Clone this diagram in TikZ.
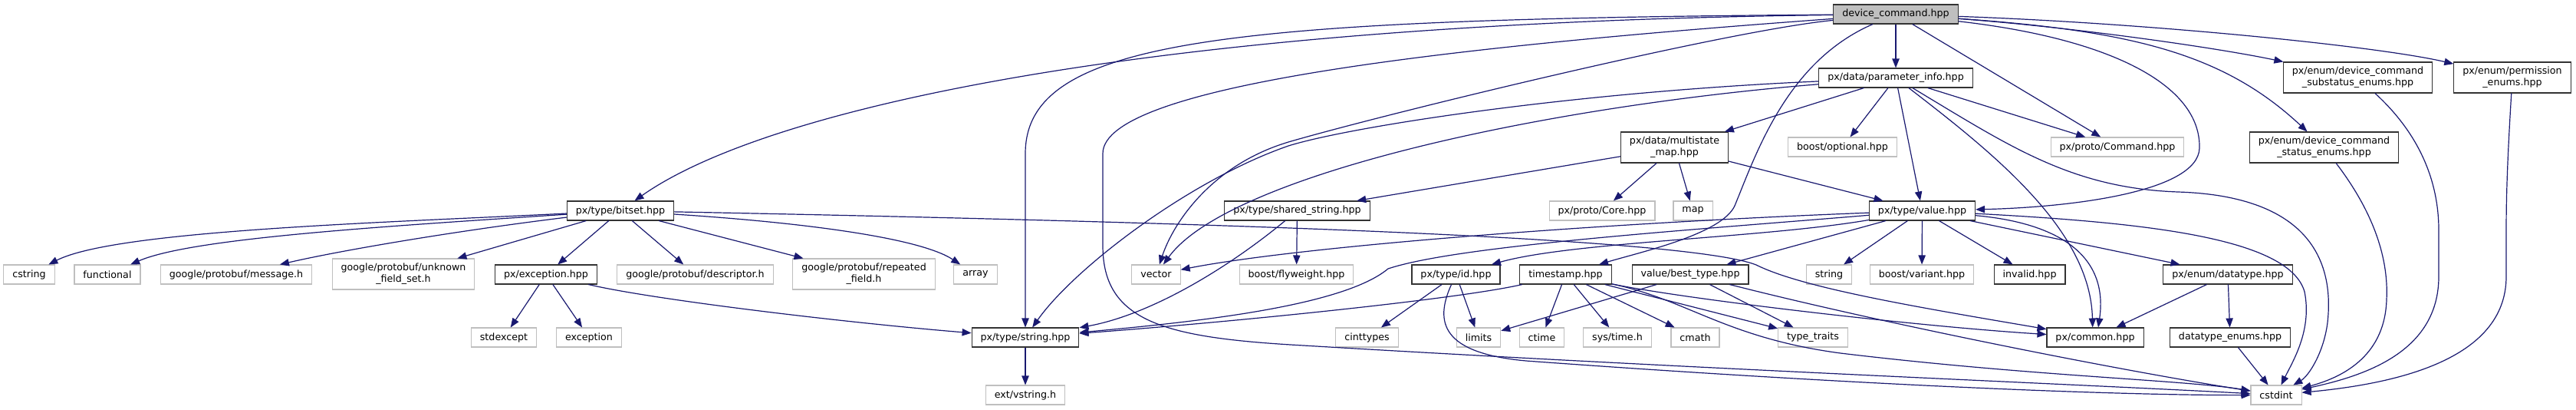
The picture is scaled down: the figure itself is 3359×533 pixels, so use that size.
\documentclass[tikz,border=0pt]{standalone}
\usepackage{fontspec}
\setmainfont{DejaVu Sans}
\usepackage{tikz}
\usetikzlibrary{arrows.meta}
\definecolor{EdgeBlue}{HTML}{191970}
\definecolor{SysGray}{HTML}{BFBFBF}
\definecolor{RootFill}{HTML}{BFBFBF}
\definecolor{DocEdge}{HTML}{333333}

\begin{document}
\begin{tikzpicture}[x=0.75pt, y=-0.75pt, every node/.style={font=\fontsize{9.5pt}{11.5pt}\selectfont}]
  \tikzstyle{filebox}=[rectangle, align=center, inner xsep=8.6pt, inner ysep=0pt, minimum height=18.75pt, line width=0.8pt, fill=white]
  \tikzstyle{docbox}=[filebox, draw=DocEdge]
  \tikzstyle{sysbox}=[filebox, draw=SysGray]
  \tikzstyle{rootbox}=[filebox, draw=DocEdge, fill=RootFill]
  \tikzstyle{twoline}=[minimum height=30pt]
  \tikzstyle{dep}=[draw=EdgeBlue, line width=0.9pt, -{Triangle[length=9pt, width=7pt]}]
  \fill[white] (0,0) rectangle (3359,533);
  \useasboundingbox (0,0) rectangle (3359,533);

  \node[rootbox] (root) at (2472,18.5) {device\_command.hpp};
  \node[docbox] (param) at (2472,101.5) {px/data/parameter\_info.hpp};
  \node[docbox, twoline] (substatus) at (3074.5,101) {px/enum/device\_command\\\_substatus\_enums.hpp};
  \node[docbox, twoline] (permission) at (3276,101) {px/enum/permission\\\_enums.hpp};
  \node[docbox, twoline] (multistate) at (2183.5,192) {px/data/multistate\\\_map.hpp};
  \node[sysbox] (optional) at (2402.5,191.5) {boost/optional.hpp};
  \node[sysbox] (command) at (2761,191.5) {px/proto/Command.hpp};
  \node[docbox, twoline] (status) at (3030.5,192) {px/enum/device\_command\\\_status\_enums.hpp};
  \node[docbox] (bitset) at (809,274.5) {px/type/bitset.hpp};
  \node[docbox] (shared) at (1691.5,274.5) {px/type/shared\_string.hpp};
  \node[sysbox] (core) at (2089,274.5) {px/proto/Core.hpp};
  \node[sysbox] (map) at (2207.5,274.5) {map};
  \node[docbox] (value) at (2506.5,274.5) {px/type/value.hpp};
  \node[sysbox] (cstring) at (38,357.5) {cstring};
  \node[sysbox] (functional) at (140,357.5) {functional};
  \node[sysbox] (message) at (308,357.5) {google/protobuf/message.h};
  \node[sysbox, twoline] (unknown) at (526,357) {google/protobuf/unknown\\\_field\_set.h};
  \node[docbox] (exc) at (712,357.5) {px/exception.hpp};
  \node[sysbox] (descriptor) at (906.5,357.5) {google/protobuf/descriptor.h};
  \node[sysbox, twoline] (repeated) at (1126.5,357) {google/protobuf/repeated\\\_field.h};
  \node[sysbox] (array) at (1272,357.5) {array};
  \node[sysbox] (vector) at (1507.5,357.5) {vector};
  \node[sysbox] (flyweight) at (1690.5,357.5) {boost/flyweight.hpp};
  \node[docbox] (id) at (1898.5,357.5) {px/type/id.hpp};
  \node[docbox] (timestamp) at (2041.5,357.5) {timestamp.hpp};
  \node[docbox] (best) at (2204,357.5) {value/best\_type.hpp};
  \node[sysbox] (stdstring) at (2385,357.5) {string};
  \node[sysbox] (variant) at (2506,357.5) {boost/variant.hpp};
  \node[docbox] (invalid) at (2646.5,357.5) {invalid.hpp};
  \node[docbox] (datatype) at (2905,357.5) {px/enum/datatype.hpp};
  \node[sysbox] (stdexcept) at (657,439.5) {stdexcept};
  \node[sysbox] (excsys) at (768,439.5) {exception};
  \node[docbox] (string) at (1337,439.5) {px/type/string.hpp};
  \node[sysbox] (cinttypes) at (1782.5,439.5) {cinttypes};
  \node[sysbox] (limits) at (1928,439.5) {limits};
  \node[sysbox] (ctime) at (2010.5,439.5) {ctime};
  \node[sysbox] (systime) at (2109,439.5) {sys/time.h};
  \node[sysbox] (cmath) at (2210.5,439.5) {cmath};
  \node[sysbox] (typetraits) at (2364,439.5) {type\_traits};
  \node[docbox] (common) at (2732,439.5) {px/common.hpp};
  \node[docbox] (dtenums) at (2908,439.5) {datatype\_enums.hpp};
  \node[sysbox] (vstring) at (1337,514.5) {ext/vstring.h};
  \node[sysbox] (cstdint) at (2968,514.5) {cstdint};

  \draw[dep] (root) -- (param);
  \draw[dep] (root) -- (command);
  \draw[dep] (root) .. controls (1500,30) and (1000,140) .. (bitset);
  \draw[dep] (root) .. controls (1600,25) and (1337,50) .. (1337,200) -- (string);
  \draw[dep] (root) .. controls (2250,40) and (1800,150) .. (1680,185) .. controls (1580,215) and (1530,290) .. (vector);
  \draw[dep] (root) .. controls (1900,60) and (1438,110) .. (1438,200) -- (1438,320) .. controls (1438,420) and (1520,440) .. (1700,450) .. controls (2200,480) and (2700,500) .. (cstdint);
  \draw[dep] (root) .. controls (2330,80) and (2290,200) .. (2262,268) .. controls (2245,305) and (2140,328) .. (timestamp);
  \draw[dep] (root) .. controls (2800,30) and (3100,60) .. (permission);
  \draw[dep] (root) .. controls (2700,35) and (2890,62) .. (substatus);
  \draw[dep] (root) .. controls (2780,40) and (2900,70) .. (status);
  \draw[dep] (root) .. controls (2750,50) and (2870,110) .. (2868,193) .. controls (2866,250) and (2700,270) .. (value);
  \draw[dep] (param) -- (multistate);
  \draw[dep] (param) -- (optional);
  \draw[dep] (param) -- (value);
  \draw[dep] (param) -- (command);
  \draw[dep] (param) .. controls (2600,200) and (2726,300) .. ([xshift=-2.5pt]common.north);
  \draw[dep] (param) .. controls (2620,190) and (2700,245) .. (2840,250) .. controls (3000,255) and (3045,330) .. (3035,420) .. controls (3030,460) and (3010,490) .. (cstdint);
  \draw[dep] (param) .. controls (2000,140) and (1600,230) .. (vector);
  \draw[dep] (param) .. controls (2050,120) and (1760,165) .. (1680,190) .. controls (1550,235) and (1400,350) .. (string);
  \draw[dep] (multistate) -- (shared);
  \draw[dep] (multistate) -- (core);
  \draw[dep] (multistate) -- (map);
  \draw[dep] (multistate) -- (value);
  \draw[dep] (shared) .. controls (1600,350) and (1500,410) .. (string);
  \draw[dep] (shared) -- (flyweight);
  \draw[dep] (bitset) .. controls (500,290) and (150,300) .. (cstring);
  \draw[dep] (bitset) .. controls (500,295) and (250,310) .. (functional);
  \draw[dep] (bitset) .. controls (600,300) and (450,325) .. (message);
  \draw[dep] (bitset) -- (unknown);
  \draw[dep] (bitset) -- (exc);
  \draw[dep] (bitset) -- (descriptor);
  \draw[dep] (bitset) -- (repeated);
  \draw[dep] (bitset) .. controls (1050,290) and (1200,310) .. (array);
  \draw[dep] (bitset) .. controls (1600,290) and (2200,310) .. (2290,345) .. controls (2350,375) and (2500,400) .. (common);
  \draw[dep] (exc) -- (stdexcept);
  \draw[dep] (exc) -- (excsys);
  \draw[dep] (exc) .. controls (850,390) and (1100,420) .. (string);
  \draw[dep] (string) -- (vstring);
  \draw[dep] (value) .. controls (2100,290) and (1700,320) .. (vector);
  \draw[dep] (value) .. controls (2200,300) and (1900,320) .. (1810,350) .. controls (1750,400) and (1550,420) .. (string);
  \draw[dep] (value) .. controls (2300,310) and (2050,315) .. (id);
  \draw[dep] (value) -- (best);
  \draw[dep] (value) -- (stdstring);
  \draw[dep] (value) -- (variant);
  \draw[dep] (value) -- (invalid);
  \draw[dep] (value) -- (datatype);
  \draw[dep] (value) .. controls (2800,290) and (2985,310) .. (3005,380) .. controls (3015,430) and (2990,470) .. (cstdint);
  \draw[dep] (value) .. controls (2680,290) and (2750,330) .. ([xshift=3pt]common.north);
  \draw[dep] (id) -- (cinttypes);
  \draw[dep] (id) -- (limits);
  \draw[dep] (id) .. controls (1870,420) and (1880,460) .. (1990,470) .. controls (2400,500) and (2750,515) .. (cstdint);
  \draw[dep] (timestamp) .. controls (1900,390) and (1600,420) .. (string);
  \draw[dep] (timestamp) -- (ctime);
  \draw[dep] (timestamp) -- (systime);
  \draw[dep] (timestamp) -- (cmath);
  \draw[dep] (timestamp) -- (typetraits);
  \draw[dep] (timestamp) .. controls (2200,390) and (2500,425) .. (common);
  \draw[dep] (timestamp) .. controls (2200,390) and (2250,440) .. (2400,460) .. controls (2650,490) and (2850,495) .. (cstdint);
  \draw[dep] (best) -- (limits);
  \draw[dep] (best) -- (typetraits);
  \draw[dep] (best) .. controls (2450,420) and (2750,480) .. (cstdint);
  \draw[dep] (datatype) -- (common);
  \draw[dep] (datatype) -- (dtenums);
  \draw[dep] (dtenums) -- (cstdint);
  \draw[dep] (substatus) .. controls (3150,170) and (3180,230) .. (3180,300) -- (3180,360) .. controls (3180,460) and (3080,490) .. (cstdint);
  \draw[dep] (permission) .. controls (3270,200) and (3268,250) .. (3268,300) -- (3268,360) .. controls (3268,470) and (3120,500) .. (cstdint);
  \draw[dep] (status) .. controls (3090,270) and (3115,330) .. (3112,390) .. controls (3110,460) and (3060,490) .. (cstdint);
\end{tikzpicture}
\end{document}
